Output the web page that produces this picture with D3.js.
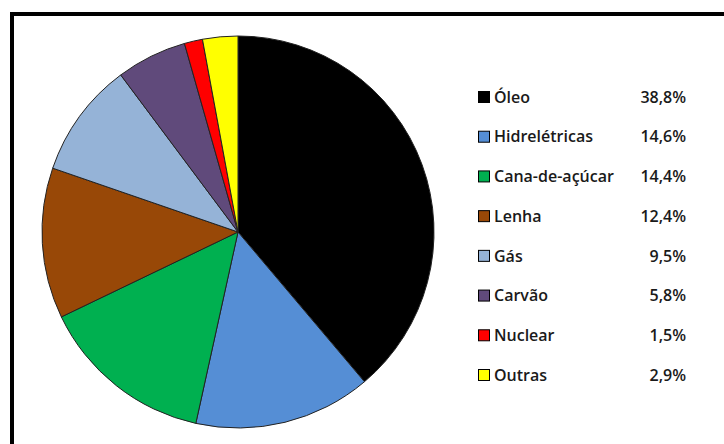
<!DOCTYPE html>
<html>
<head>
<meta charset="utf-8">
<script src="https://cdn.jsdelivr.net/npm/d3@7"></script>
<style>
  html, body { margin: 0; padding: 0; background: #fff; }
  svg { display: block; }
  text { font-family: "Open Sans", "Noto Sans", sans-serif; }
</style>
</head>
<body>
<svg id="chart" width="724" height="444"></svg>
<script>
// Matriz energética: participação de cada fonte (%)
const categories = ["Óleo", "Hidrelétricas", "Cana-de-açúcar", "Lenha", "Gás", "Carvão", "Nuclear", "Outras"];
const values = [38.8, 14.6, 14.4, 12.4, 9.5, 5.8, 1.5, 2.9];
const labels = ["38,8%", "14,6%", "14,4%", "12,4%", "9,5%", "5,8%", "1,5%", "2,9%"];
const colors = ["#000000", "#558ED5", "#00B050", "#984807", "#95B3D7", "#604A7B", "#FF0000", "#FFFF00"];

const data = categories.map((c, i) => ({ name: c, value: values[i], label: labels[i], color: colors[i] }));

const svg = d3.select("#chart");

// Moldura externa
svg.append("rect")
  .attr("x", 12).attr("y", 14)
  .attr("width", 740).attr("height", 460)
  .attr("fill", "#fff")
  .attr("stroke", "#000").attr("stroke-width", 4);

// Pizza
const cx = 238, cy = 232, r = 196;
const pie = d3.pie().value(d => d.value).sort(null);
const arc = d3.arc().innerRadius(0).outerRadius(r);

svg.append("g")
  .attr("transform", `translate(${cx},${cy})`)
  .selectAll("path")
  .data(pie(data))
  .join("path")
  .attr("d", arc)
  .attr("fill", d => d.data.color)
  .attr("stroke", "#222")
  .attr("stroke-width", 1);

// Legenda
const legendY = d3.scalePoint().domain(categories).range([97, 375]);
const legend = svg.append("g");
const rows = legend.selectAll("g").data(data).join("g")
  .attr("transform", d => `translate(0,${legendY(d.name)})`);

rows.append("rect")
  .attr("x", 478.5).attr("y", -5.5)
  .attr("width", 11).attr("height", 11)
  .attr("fill", d => d.color)
  .attr("stroke", "#000").attr("stroke-width", 1);

rows.append("text")
  .attr("x", 494).attr("y", 0)
  .attr("dy", "0.36em")
  .attr("font-size", 16)
  .attr("font-weight", 600)
  .attr("fill", "#1a1a1a")
  .text(d => d.name);

rows.append("text")
  .attr("x", 686).attr("y", 0)
  .attr("dy", "0.36em")
  .attr("text-anchor", "end")
  .attr("font-size", 16)
  .attr("font-weight", 600)
  .attr("fill", "#1a1a1a")
  .text(d => d.label);
</script>
</body>
</html>
